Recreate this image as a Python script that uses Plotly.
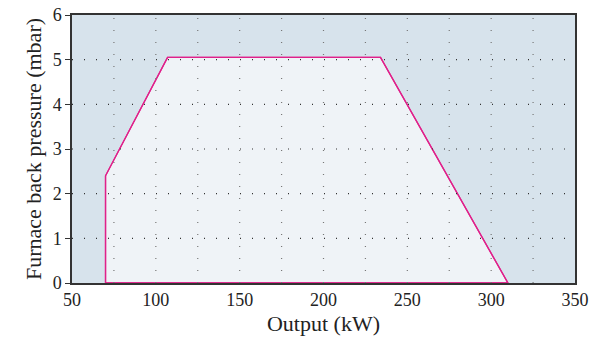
import plotly.graph_objects as go

# Operating range polygon (Output kW, back pressure mbar)
output_kw = [70, 70, 107, 234, 310, 70]
pressure_mbar = [0, 2.4, 5.05, 5.05, 0, 0]

x_ticks = [50, 100, 150, 200, 250, 300, 350]
y_ticks = [0, 1, 2, 3, 4, 5, 6]
x_grid = [75, 100, 125, 150, 175, 200, 225, 250, 275, 300, 325]
y_grid = [1, 2, 3, 4, 5]

fig = go.Figure()
fig.add_trace(go.Scatter(
    x=output_kw, y=pressure_mbar, mode="lines", fill="toself",
    fillcolor="#eff3f7", line=dict(color="#e0218a", width=1.3),
    showlegend=False, hoverinfo="skip"))

font = dict(family="Liberation Serif, Times New Roman, serif", size=18, color="#222")
fig.update_layout(
    width=598, height=344,
    margin=dict(l=72, r=23, t=15, b=61, autoexpand=False),
    paper_bgcolor="white", plot_bgcolor="#d7e3ec",
    font=font,
)
fig.update_xaxes(
    range=[50, 350], tickvals=x_ticks, ticks="", automargin=False,
    showgrid=False, zeroline=False,
    showline=True, linecolor="#333", linewidth=1.5, mirror=True,
    title=dict(text="Output (kW)", standoff=6),
)
fig.update_yaxes(
    range=[0, 6], tickvals=y_ticks, ticks="outside", ticklen=5, tickcolor="#333",
    automargin=False,
    showgrid=False, zeroline=False,
    showline=True, linecolor="#333", linewidth=1.5, mirror=True,
    title=dict(text="Furnace back pressure (mbar)", standoff=5),
)

# dotted grid drawn above the fill
for xv in x_grid:
    fig.add_shape(type="line", x0=xv, x1=xv, y0=0, y1=6, xref="x", yref="y",
                  line=dict(color="#777", width=1.2, dash="1px,11px"), layer="above")
for yv in y_grid:
    fig.add_shape(type="line", x0=50, x1=350, y0=yv, y1=yv, xref="x", yref="y",
                  line=dict(color="#333", width=1.2, dash="1px,11px"), layer="above")

# redraw polygon edge on top of grid
fig.add_trace(go.Scatter(
    x=output_kw, y=pressure_mbar, mode="lines",
    line=dict(color="#e0218a", width=1.3), showlegend=False, hoverinfo="skip"))

fig.write_html("out.html", config={"displayModeBar": False},
               post_script="document.body.style.margin='0';")
